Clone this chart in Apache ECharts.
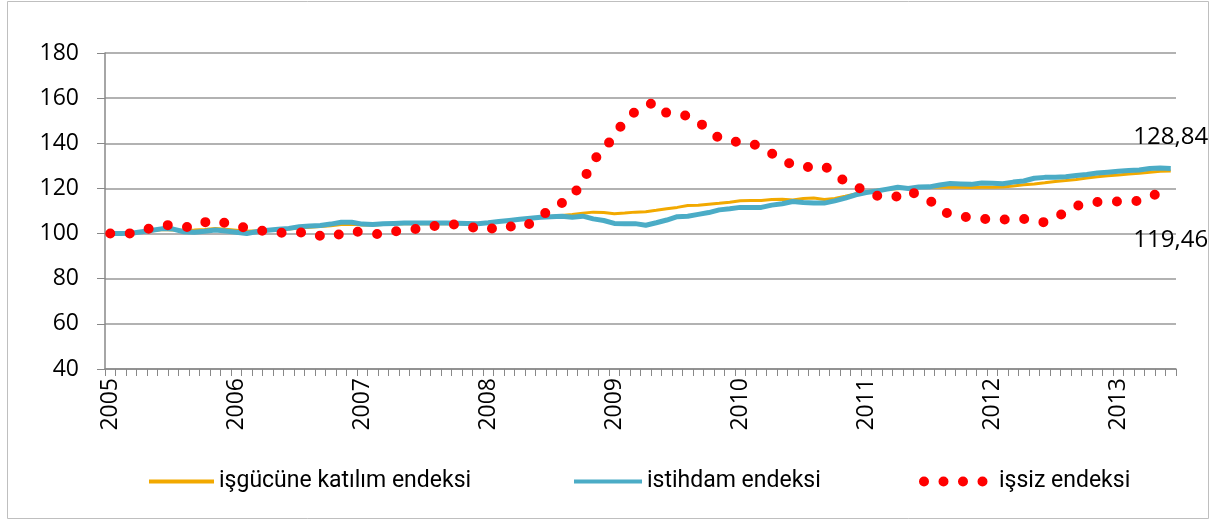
<!DOCTYPE html>
<html>
<head>
<meta charset="utf-8">
<script src="https://cdn.jsdelivr.net/npm/echarts@6/dist/echarts.min.js"></script>
<style>
html,body{margin:0;padding:0;background:#fff;}
#chart{width:1216px;height:522px;}
</style>
</head>
<body>
<div id="chart"></div>
<script>
// years on the x axis (monthly data, Jan 2005 - Jun 2013)
var years=["2005","2006","2007","2008","2009","2010","2011","2012","2013"];
var lastYearMonths=6;
var seriesNames=["işgücüne katılım endeksi","istihdam endeksi","işsiz endeksi"];

var isgucu=[100,100,100.2,100.8,101.3,101.8,101.6,101.5,101.6,101.8,102.2,101.9,
    101.5,101,101.2,101.5,101.7,102,102.5,102.8,103.1,103.5,104,104.1,
    103.8,103.8,104,104.2,104.3,104.4,104.4,104.5,104.4,104.3,104.2,104.3,
    104.8,105.3,105.8,106.3,106.8,107.3,107.6,108,108.4,109,109.5,109.3,
    108.8,109.1,109.5,109.7,110.3,111,111.6,112.4,112.5,113,113.4,113.9,
    114.5,114.7,114.7,115.1,115.2,114.9,115.5,115.8,115.1,115.5,116.5,117.6,
    118.5,119.2,119.6,119.9,120.1,120.4,120.5,120.6,120.5,120.5,120.4,120.5,
    120.5,120.6,121.1,121.6,122,122.5,123.1,123.5,124,124.6,125.2,125.6,
    126,126.4,126.7,127.2,127.6,127.7];
var istihdam=[100,100,100.1,100.8,101.5,102.2,102,100.8,100.6,101,101.6,101.1,
    100.6,100,100.9,101.5,101.9,102.3,103,103.4,103.6,104.2,105,105,
    104.2,104,104.3,104.5,104.7,104.7,104.7,104.7,104.7,104.6,104.5,104.4,
    104.8,105.3,105.8,106.3,106.8,107.2,107.5,107.7,107.2,107.7,106.5,105.8,
    104.5,104.4,104.4,103.7,104.8,106,107.5,107.7,108.5,109.3,110.5,111,
    111.6,111.6,111.6,112.6,113.2,114.2,113.8,113.5,113.5,114.5,115.7,117.2,
    118.2,118.9,119.7,120.5,120,120.6,120.7,121.5,122.2,122,121.8,122.4,
    122.3,122.1,122.8,123.3,124.5,124.9,124.9,125.2,125.7,126.2,126.8,127.2,
    127.6,127.9,128.2,128.8,129,128.84];
var issiz=[100,100,100.1,101.5,102.5,103.5,104,103,102.8,105,106,104.6,
    104,102.2,101.5,101,100.5,100.1,100.4,100.7,99,98.4,100,101.2,
    100.5,100,99.6,100.8,101.8,102,102.2,103.5,104.2,103.9,103.5,102,
    101.5,103.5,103.3,102.3,104.5,108,110.5,113.5,116.5,123,132.5,137,
    143.5,150,154,157,158,153.3,152.5,152.3,149.5,146,142.2,141,
    140.5,140.2,138,135.5,132.5,130.5,129.3,129.8,130,126.5,123,121.3,
    118,116.8,115.8,116.5,119,117,115,110.5,108.5,107.6,107,106.5,
    106.3,106.2,106.4,106.5,105.5,105,107,109.5,112.2,113.5,114,114.1,
    114.2,114.3,114.5,116.5,118,119.46];

//categories
var months=[];
years.forEach(function(y,k){
    var n=(k==years.length-1)?lastYearMonths:12;
    for(var m=1;m<=n;m++){
        months.push(y+"-"+(m<10?"0"+m:m));
    }
});

var numFont="'Open Sans', 'DejaVu Sans', sans-serif";
var legendFont="'Roboto', 'Noto Sans', sans-serif";

//value label on the last point of a series
function lastPoint(arr,pos,dist){
    var i=arr.length-1;
    return {
        symbol:"circle",symbolSize:0,silent:true,
        data:[{coord:[months[i],arr[i]],value:arr[i]}],
        label:{show:true,position:pos,distance:dist,
            fontFamily:numFont,fontSize:24,color:"#000",
            formatter:function(p){return String(p.value).replace(".",",");}}
    };
}

function legendItem(name,left,w,lineW){
    return {
        data:[name],left:left,top:470,padding:0,
        itemWidth:w,itemHeight:14,
        itemStyle:{opacity:0},
        lineStyle:{width:lineW},
        textStyle:{fontFamily:legendFont,fontSize:23,color:"#000"}
    };
}

var chart=echarts.init(document.getElementById("chart"));
var option={
    animation:false,
    backgroundColor:"#fff",
    graphic:[{
        type:"rect",
        shape:{x:7.5,y:1.5,width:1201,height:517},
        style:{fill:"none",stroke:"#bfbfbf",lineWidth:1},
        silent:true
    }],
    grid:{left:105,right:40,top:53,bottom:153},
    legend:[
        legendItem(seriesNames[0],147,65,4),
        legendItem(seriesNames[1],572,68,4),
        legendItem(seriesNames[2],919,70,10)
    ],
    xAxis:{
        type:"category",
        data:months,
        boundaryGap:true,
        axisLine:{lineStyle:{color:"#888",width:1.5}},
        axisTick:{show:true,interval:0,length:7,lineStyle:{color:"#888"}},
        axisLabel:{
            interval:11,rotate:90,margin:9,
            fontFamily:numFont,fontSize:23,color:"#000",
            formatter:function(v){return v.split("-")[0];}
        },
        splitLine:{show:false}
    },
    yAxis:{
        type:"value",
        min:40,max:180,interval:20,
        axisLine:{show:true,lineStyle:{color:"#888",width:1.5}},
        axisTick:{show:true,length:8,lineStyle:{color:"#888"}},
        axisLabel:{margin:26,fontFamily:numFont,fontSize:23,color:"#000"},
        splitLine:{lineStyle:{color:"#999",width:1.5}}
    },
    series:[{
        name:seriesNames[0],
        type:"line",
        symbol:"none",
        data:isgucu,
        lineStyle:{color:"#F2A900",width:3},
        itemStyle:{color:"#F2A900"},
        z:2
    },{
        name:seriesNames[1],
        type:"line",
        symbol:"none",
        data:istihdam,
        lineStyle:{color:"#4BACC6",width:5},
        itemStyle:{color:"#4BACC6"},
        markPoint:lastPoint(istihdam,"top",19),
        z:3
    },{
        name:seriesNames[2],
        type:"line",
        symbol:"none",
        data:issiz,
        lineStyle:{color:"#FF0000",width:10,type:[0,19.5],cap:"round"},
        itemStyle:{color:"#FF0000"},
        markPoint:lastPoint(issiz,"bottom",39),
        z:4
    }]
};
chart.setOption(option);
</script>
</body>
</html>
